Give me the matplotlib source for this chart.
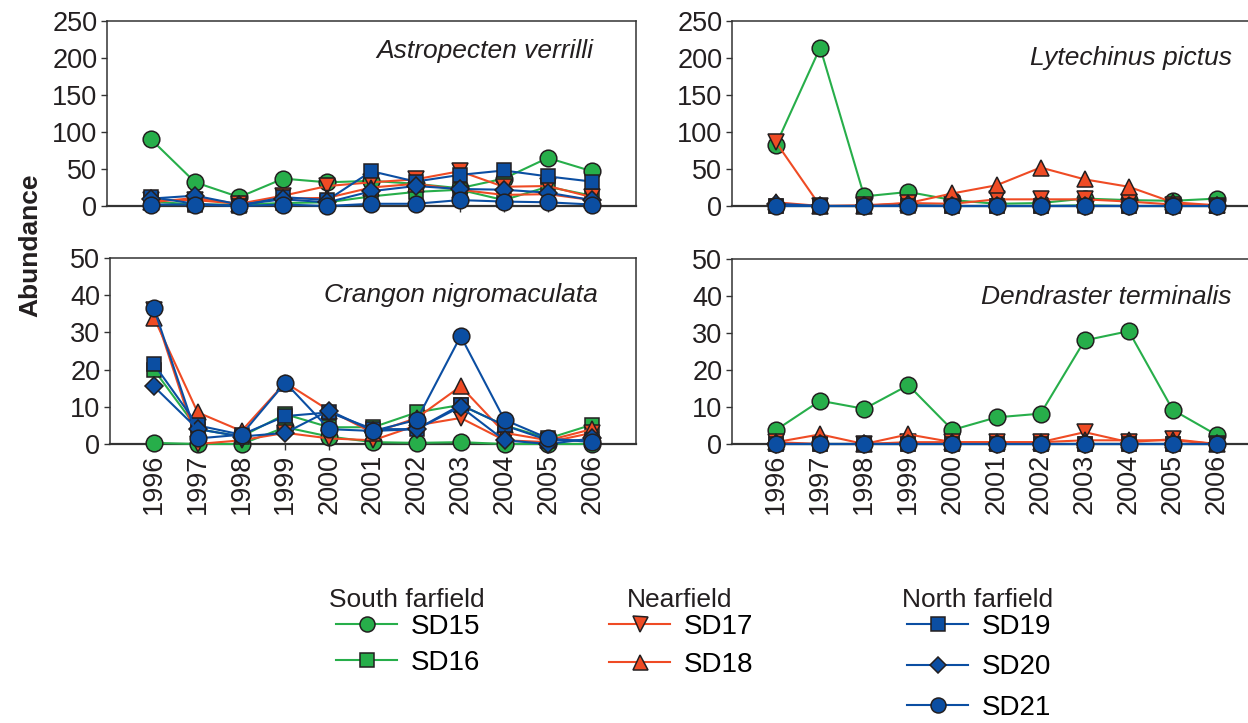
import matplotlib
matplotlib.use("Agg")
import matplotlib.pyplot as plt
from matplotlib.lines import Line2D

plt.rcParams['font.family'] = ['Liberation Sans', 'DejaVu Sans']

years = ["1996", "1997", "1998", "1999", "2000", "2001",
         "2002", "2003", "2004", "2005", "2006"]
stations = ["SD15", "SD16", "SD17", "SD18", "SD19", "SD20", "SD21"]

# one row per station, SD15 .. SD21
astropecten = [
    [90, 32, 12, 37, 32, 34, 30, 24, 37, 65, 47],
    [6, 2, 2, 4, 5, 13, 19, 22, 8, 26, 14],
    [8, 8, 3, 14, 27, 32, 36, 47, 26, 27, 12],
    [5, 11, 3, 10, 11, 25, 30, 22, 15, 16, 8],
    [12, 3, 0, 12, 8, 47, 33, 42, 48, 40, 33],
    [10, 14, 2, 9, 5, 20, 27, 23, 22, 18, 8],
    [2, 2, 0, 2, 0, 3, 3, 8, 6, 5, 2],
]
lytechinus = [
    [83, 214, 13, 19, 8, 3, 4, 10, 8, 7, 10],
    [0, 0, 0, 1, 0, 0, 0, 1, 0, 0, 0],
    [86, 0, 1, 4, 3, 9, 9, 9, 6, 2, 0],
    [5, 0, 0, 4, 17, 28, 52, 36, 26, 5, 1],
    [0, 0, 0, 0, 0, 0, 0, 0, 0, 0, 0],
    [3, 0, 0, 1, 0, 0, 0, 0, 0, 0, 0],
    [0, 0, 0, 0, 0, 0, 0, 0, 0, 0, 0],
]
crangon = [
    [0.3, 0, 0, 4.5, 2, 0.5, 0.3, 0.5, 0, 0, 0],
    [20, 4, 2, 8, 4.5, 4.5, 8.5, 10.5, 5, 1.5, 5.2],
    [36, 0, 1, 3, 1.5, 1, 5, 7, 1, 0.5, 3],
    [34, 8.5, 3.5, 16.5, 9, 3, 7, 15.5, 3, 1, 4],
    [21.5, 5, 2.5, 7.5, 8.5, 4, 4, 10.5, 5, 1, 1],
    [15.5, 4, 2, 3, 9, 3.5, 4, 10, 1, 0, 1.5],
    [36.5, 1.5, 2.5, 16.5, 4, 3.5, 6.5, 29, 6.5, 1.5, 0.5],
]
dendraster = [
    [3.8, 11.7, 9.5, 15.9, 3.8, 7.2, 8.2, 28, 30.5, 9.2, 2.4],
    [0, 0, 0, 0, 0, 0, 0, 0, 0, 0, 0],
    [0.5, 0, 0, 0.5, 0.5, 0.5, 0.5, 3.2, 0.5, 1.3, 0],
    [0.5, 2.6, 0, 2.6, 0.5, 0.5, 0.5, 1, 1, 1, 0],
    [0, 0, 0, 0, 0, 0, 0, 0, 0, 0, 0],
    [0, 0, 0, 0, 0, 0, 0, 0, 0, 0, 0],
    [0, 0, 0, 0, 0, 0, 0, 0, 0, 0, 0],
]

GREEN = "#27AE4A"
RED = "#EF4B24"
BLUE = "#0B4EA2"
EDGE = "#231F20"
colors = [GREEN, GREEN, RED, RED, BLUE, BLUE, BLUE]
markers = ["o", "s", "v", "^", "s", "D", "o"]
msizes = [12, 10.5, 12, 12, 10.5, 9, 12]

W, H = 1248, 723
fig = plt.figure(figsize=(W / 100, H / 100), dpi=100)


def px_rect(left, top, right, bottom):
    return [left / W, 1 - bottom / H, (right - left) / W, (bottom - top) / H]


def draw_panel(rect, data, title, tx, ty, ymax, step, show_years):
    ax = fig.add_axes(rect)
    x = range(len(years))
    for i, vals in enumerate(data):
        ax.plot(x, vals, color=colors[i], marker=markers[i], ms=msizes[i],
                mfc=colors[i], mec=EDGE, mew=1.1, lw=1.5, zorder=3 + i,
                clip_on=False)
    ax.set_xlim(-1, 11)
    ax.set_ylim(0, ymax)
    ax.set_yticks(range(0, ymax + 1, step))
    ax.set_xticks(list(x))
    if show_years:
        ax.set_xticklabels(years, rotation=90)
    else:
        ax.set_xticklabels([])
    ax.tick_params(length=4, width=1, labelsize=19.5, color="#333333",
                   labelcolor="#231F20", pad=3)
    for s in ax.spines.values():
        s.set_color("#333333")
        s.set_linewidth(1.1)
    ax.spines["bottom"].set_linewidth(1.6)
    ax.text(tx, ty, title, transform=ax.transAxes, ha="right", va="baseline",
            fontsize=19, style="italic", color="#231F20")
    return ax


draw_panel(px_rect(107, 21, 636, 206), astropecten, "Astropecten verrilli",
           0.92, 0.80, 250, 50, False)
draw_panel(px_rect(732, 21, 1261, 206), lytechinus, "Lytechinus pictus",
           0.945, 0.76, 250, 50, False)
draw_panel(px_rect(110, 258, 636, 444), crangon, "Crangon nigromaculata",
           0.928, 0.763, 50, 10, True)
draw_panel(px_rect(732, 259, 1261, 444), dendraster, "Dendraster terminalis",
           0.945, 0.755, 50, 10, True)

fig.text(30 / W, 1 - 245 / H, "Abundance", rotation=90, ha="center",
         va="center", fontsize=19, fontweight="bold", color="#231F20")

# legend: three groups with their own headings
handles = [Line2D([], [], color=colors[i], marker=markers[i], ms=msizes[i] * 0.9,
                  mfc=colors[i], mec=EDGE, mew=1.1, lw=1.5)
           for i in range(len(stations))]
groups = [("South farfield", 407, 336, [0, 1], 0.36),
          ("Nearfield", 680, 609, [2, 3], 0.42),
          ("North farfield", 978, 907, [4, 5, 6], 0.52)]
for name, cx, lx, idx, sp in groups:
    fig.text(cx / W, 1 - 600 / H, name, ha="center", va="center",
             fontsize=19, color="#231F20")
    fig.legend([handles[i] for i in idx], [stations[i] for i in idx],
               loc="upper left", bbox_to_anchor=(lx / W, 1 - 614 / H),
               frameon=False, fontsize=20, handlelength=2.2,
               handletextpad=0.5, labelspacing=sp, borderpad=0,
               borderaxespad=0)

fig.savefig("out.png", dpi=100)
